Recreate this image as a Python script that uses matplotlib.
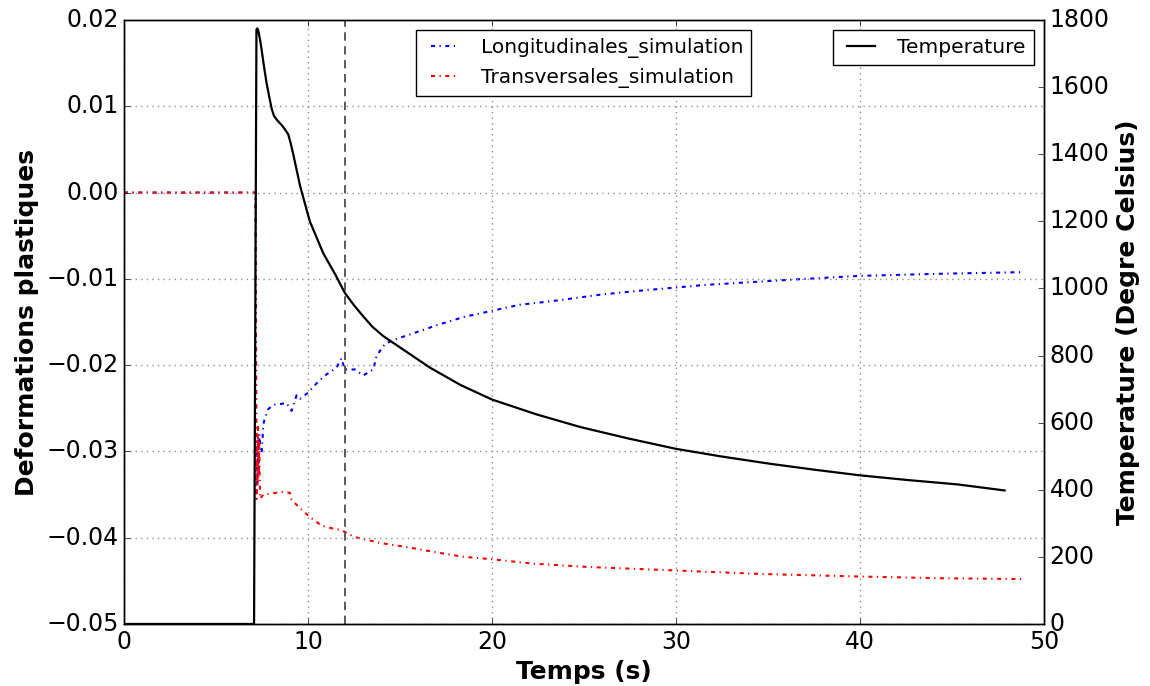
import matplotlib
matplotlib.use('Agg')
import matplotlib.pyplot as plt

# Temperature (right axis)
time_temp = [0, 7.07, 7.2, 7.25, 7.3, 7.4, 7.48, 7.6, 7.75, 7.9, 8.03, 8.15, 8.3,
             8.6, 8.8, 8.93, 9.05, 9.2, 9.57, 10.1, 10.83, 11.5, 12.0, 12.5, 13.0,
             13.5, 14.09, 15.36, 16.63, 18.3, 20, 22.4, 24.8, 27.4, 30, 32.5,
             35.05, 37.5, 40, 42.6, 45.3, 47.86]
temperature = [0, 0, 1772, 1775, 1768, 1740, 1712, 1665, 1612, 1570, 1535, 1515, 1503,
               1485, 1470, 1459, 1435, 1400, 1306, 1200, 1105, 1040, 987, 950, 917,
               886, 858, 811, 764, 712, 669, 625, 587, 553, 522, 499,
               478, 460, 443, 429, 416, 398]

# Longitudinal plastic strain
time_long = [0, 7.15, 7.2, 7.22, 7.25, 7.28, 7.32, 7.36, 7.42, 7.48, 7.53, 7.57,
             7.66, 7.84, 8.12, 8.5, 8.84, 9.11, 9.38, 9.57, 10.0, 10.47, 10.92,
             11.55, 11.82, 12.0, 12.55, 13.0, 13.55, 13.73, 14.2, 14.9, 15.6,
             17.1, 18.5, 20, 21.5, 23.2, 26.0, 28.4, 30, 31.6, 36.2, 40, 44.5, 48.9]
long_sim = [0, 0, -0.0355, -0.030, -0.034, -0.029, -0.032, -0.028, -0.030, -0.0302,
            -0.0286, -0.0269, -0.0261, -0.0251, -0.0246, -0.0245, -0.0244, -0.0253,
            -0.0235, -0.0239, -0.0232, -0.0221, -0.0212, -0.0203, -0.0192, -0.0205,
            -0.0205, -0.0212, -0.0205, -0.0189, -0.0175, -0.0169, -0.0164, -0.0153,
            -0.0144, -0.0137, -0.0130, -0.0126, -0.0118, -0.0113, -0.0110, -0.0107,
            -0.0101, -0.00965, -0.0094, -0.00922]

# Transverse plastic strain
time_trans = [0, 7.15, 7.2, 7.22, 7.25, 7.28, 7.31, 7.35, 7.4, 7.57, 7.93, 8.57,
              9.02, 9.11, 9.57, 10.1, 10.74, 11.47, 11.8, 12.5, 13.9, 15.4, 17.0,
              18.4, 20, 22.2, 25.3, 30, 34.6, 40, 44.5, 49]
trans_sim = [0, 0, -0.0355, -0.028, -0.034, -0.027, -0.033, -0.029, -0.0355,
             -0.0350, -0.0349, -0.0347, -0.0348, -0.0356, -0.0366, -0.0376,
             -0.0386, -0.0390, -0.0391, -0.0399, -0.0406, -0.0411, -0.0417,
             -0.0422, -0.0425, -0.0430, -0.0434, -0.0438, -0.0442, -0.0445,
             -0.0447, -0.0448]

t_marker = 12

plt.style.use('classic')
plt.rcParams['figure.facecolor'] = 'white'
plt.rcParams['savefig.facecolor'] = 'white'

fig = plt.figure(figsize=(11.5, 6.86), dpi=100)
ax1 = fig.add_axes([0.1078, 0.0904, 0.8, 0.8804])

dashdot = (0, (2.9, 3.2, 0.9, 3.3))
ax1.plot(time_long, long_sim, color='blue', ls=dashdot, lw=1.5,
         label='Longitudinales_simulation')
ax1.plot(time_trans, trans_sim, color='red', ls=dashdot, lw=1.5,
         label='Transversales_simulation')
ax1.axvline(t_marker, color='0.3', ls='--', lw=1.3, dashes=(6, 4))

ax1.set_xlim(0, 50)
ax1.set_ylim(-0.05, 0.02)
ax1.set_xlabel('Temps (s)', fontsize=18, fontweight='bold')
ax1.set_ylabel('Deformations plastiques', fontsize=18, fontweight='bold')
ax1.tick_params(labelsize=17)
ax1.grid(True, color='0.55', ls=':', lw=1)
ax1.legend(loc='upper center', fontsize=14.5, handlelength=2)

ax2 = ax1.twinx()
ax2.plot(time_temp, temperature, color='black', lw=1.6, label='Temperature')
ax2.set_ylim(0, 1800)
ax2.set_ylabel('Temperature (Degre Celsius)', fontsize=18, fontweight='bold')
ax2.tick_params(labelsize=17)
ax2.legend(loc='upper right', fontsize=14.5, handlelength=2)

plt.savefig('out.png', dpi=100)
